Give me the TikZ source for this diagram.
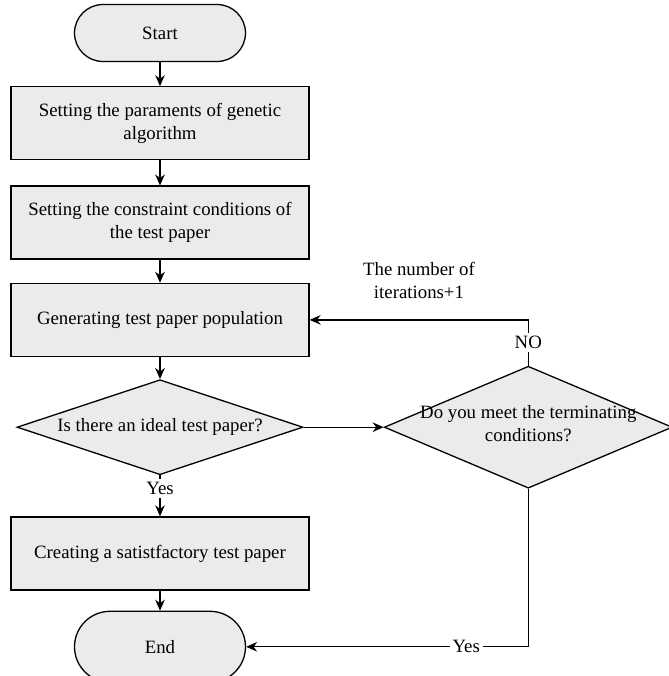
\documentclass[tikz,border=0pt]{standalone}
\usepackage{fontspec}
\setmainfont{Liberation Serif}
\usetikzlibrary{positioning,arrows.meta,shapes.geometric}
\definecolor{cfill}{HTML}{EBEBEB}

\begin{document}
\begin{tikzpicture}[
  font=\fontsize{9.4}{11.5}\selectfont,
  >={Stealth[length=5.5pt,width=4.8pt]},
  box/.style={draw, line width=0.65pt, fill=cfill, align=center,
              minimum width=149pt, minimum height=36.5pt, inner sep=2pt},
  term/.style={box, minimum width=85.5pt},
  dec/.style={diamond, draw, line width=0.65pt, fill=cfill, inner sep=0pt},
  flow/.style={->, line width=0.65pt},
  note/.style={inner sep=1.5pt},
]
\useasboundingbox (0,0) rectangle (334.5pt,-338pt);

% ---- main column ----
\node[term, minimum height=28.5pt, rounded corners=14.25pt] (start) at (80pt,-16.5pt) {Start};
\node[box, below=12pt of start] (par) {Setting the paraments of genetic\\ algorithm};
\node[box, below=12.5pt of par] (con) {Setting the constraint conditions of\\ the test paper};
\node[box, below=11.5pt of con] (gen) {Generating test paper population};
\node[dec, minimum width=143pt, minimum height=47.5pt, below=11pt of gen,
      label={center:Is there an ideal test paper?}] (ideal) {};
\node[box, below=20.5pt of ideal] (sat) {Creating a satistfactory test paper};
\node[term, minimum height=35.5pt, rounded corners=17.75pt, below=10pt of sat] (end) {End};

% ---- termination check ----
\node[dec, minimum width=144pt, minimum height=61pt, right=40pt of ideal,
      label={[align=center,yshift=2pt]center:Do you meet the terminating\\ conditions?}] (term) {};

% ---- flows ----
\draw[flow] (start) -- (par);
\draw[flow] (par) -- (con);
\draw[flow] (con) -- (gen);
\draw[flow] (gen) -- (ideal);
\draw[flow] (ideal) -- node[note,fill=white,pos=0.32]{Yes} (sat);
\draw[flow] (sat) -- (end);
\draw[flow] (ideal) -- (term);
\draw[flow] (term.north) |- node[note,fill=white,pos=0.25]{NO}
  node[note,above=9pt,align=center,pos=0.75]{The number of\\ iterations+1} (gen.east);
\draw[flow] (term.south) |- node[note,fill=white,pos=0.61]{Yes} (end.east);
\end{tikzpicture}
\end{document}
